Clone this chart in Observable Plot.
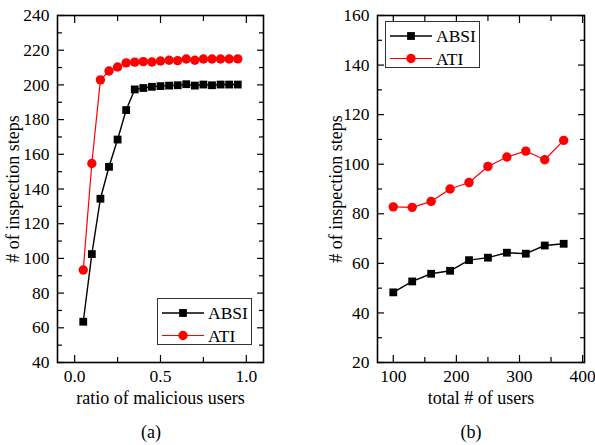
<!DOCTYPE html>
<html><head><meta charset="utf-8">
<script src="https://cdn.jsdelivr.net/npm/d3@7"></script>
<script src="https://cdn.jsdelivr.net/npm/@observablehq/plot@0.6"></script>
<style>
body{margin:0;background:#fff;}
#wrap{position:relative;width:595px;height:445px;font-family:"Liberation Serif","Times New Roman",serif;color:#000;}
.panel{position:absolute;top:0;}
.cap{position:absolute;font-size:18px;transform:translate(-50%,-50%);white-space:nowrap;}
.legend{position:absolute;box-sizing:border-box;border:1.5px solid #333;background:#fff;}
.legend svg{overflow:visible;}
</style></head><body><div id="wrap"></div>
<script>
// ---- data (a) ----
const ratio = [0.05,0.10,0.15,0.20,0.25,0.30,0.35,0.40,0.45,0.50,0.55,0.60,0.65,0.70,0.75,0.80,0.85,0.90,0.95];
const absiA = [63.5,102.5,134.4,152.8,168.5,185.5,197.4,198.2,198.9,199.3,199.6,199.8,200.4,199.6,200.2,199.8,200.2,200.2,200.2];
const atiA  = [93.3,154.7,202.9,208.0,210.3,212.7,213.1,213.4,213.2,213.8,214.2,214.0,214.9,214.2,214.9,214.9,214.9,214.9,215.0];
// ---- data (b) ----
const users = [100,130,160,190,220,250,280,310,340,370];
const absiB = [48.3,52.7,55.8,57.0,61.3,62.3,64.3,63.9,67.2,67.9];
const atiB  = [82.8,82.6,85.0,90.0,92.6,99.1,102.9,105.3,101.8,109.6];
// ---- ticks ----
const xMajorA = [0, 0.5, 1.0];
const xMinorA = [0.25, 0.75];
const yMajorA = [40,60,80,100,120,140,160,180,200,220,240];
const yMinorA = [50,70,90,110,130,150,170,190,210,230];
const xMajorB = [100,200,300,400];
const xMinorB = [150,250,350];
const yMajorB = [20,40,60,80,100,120,140,160];
const yMinorB = [30,50,70,90,110,130,150];
const seriesNames = ["ABSI","ATI"];
const seriesColors = ["#000000","#ff0000"];
const yTitle = "# of inspection steps";

const FONT = '"Liberation Serif","Times New Roman",serif';

function panel({xs, s1, s2, xDomain, yDomain, xMajor, xMinor, yMajor, yMinor, xFmt, xLabel, width, marginLeft, marginRight, yLabelOffset}) {
  const d1 = xs.map((x,i)=>({x, y:s1[i]}));
  const d2 = xs.map((x,i)=>({x, y:s2[i]}));
  const noText = () => "";
  return Plot.plot({
    width, height: 410,
    marginLeft, marginRight, marginTop: 15, marginBottom: 48,
    style: {fontFamily: FONT, fontSize: "17.5px", background: "transparent", color: "#000", overflow: "visible"},
    x: {domain: xDomain},
    y: {domain: yDomain},
    marks: [
      // tick labels
      Plot.axisX({ticks: xMajor, tickSize: 0, tickPadding: 7, tickFormat: xFmt, label: null, fontSize: 17.5}),
      Plot.axisY({ticks: yMajor, tickSize: 0, tickPadding: 8, tickFormat: d=>d, label: null, fontSize: 17.5}),
      // axis titles
      Plot.axisX({ticks: xMajor, tickSize: 0, tickFormat: noText, label: xLabel, labelAnchor: "center", labelOffset: 41, labelArrow: "none", fontSize: 18}),
      Plot.axisY({ticks: yMajor, tickSize: 0, tickFormat: noText, label: yTitle, labelAnchor: "center", labelOffset: yLabelOffset, labelArrow: "none", fontSize: 18}),
      // inward ticks on all four sides
      Plot.axisX({anchor: "bottom", ticks: xMajor, tickSize: -7, tickFormat: noText, label: null, strokeWidth: 1.2}),
      Plot.axisX({anchor: "bottom", ticks: xMinor, tickSize: -5, tickFormat: noText, label: null, strokeWidth: 1.2}),
      Plot.axisX({anchor: "top", ticks: xMajor, tickSize: -7, tickFormat: noText, label: null, strokeWidth: 1.2}),
      Plot.axisX({anchor: "top", ticks: xMinor, tickSize: -5, tickFormat: noText, label: null, strokeWidth: 1.2}),
      Plot.axisY({anchor: "left", ticks: yMajor, tickSize: -7, tickFormat: noText, label: null, strokeWidth: 1.2}),
      Plot.axisY({anchor: "left", ticks: yMinor, tickSize: -5, tickFormat: noText, label: null, strokeWidth: 1.2}),
      Plot.axisY({anchor: "right", ticks: yMajor, tickSize: -7, tickFormat: noText, label: null, strokeWidth: 1.2}),
      Plot.axisY({anchor: "right", ticks: yMinor, tickSize: -5, tickFormat: noText, label: null, strokeWidth: 1.2}),
      Plot.line(d1, {x: "x", y: "y", stroke: seriesColors[0], strokeWidth: 1.4}),
      Plot.line(d2, {x: "x", y: "y", stroke: seriesColors[1], strokeWidth: 1.2}),
      Plot.dot(d1, {x: "x", y: "y", symbol: "square", fill: seriesColors[0], r: 4.4}),
      Plot.dot(d2, {x: "x", y: "y", symbol: "circle", fill: seriesColors[1], r: 4.7}),
      Plot.frame({stroke: "#000", strokeWidth: 1.6})
    ]
  });
}

function legend(left, top) {
  const div = document.createElement("div");
  div.className = "legend";
  Object.assign(div.style, {left: left+"px", top: top+"px", width: "95px", height: "47px"});
  const svg = d3.select(div).append("svg").attr("width", 95).attr("height", 47)
    .style("position","absolute").style("left","-1.5px").style("top","-1.5px");
  seriesNames.forEach((name, i) => {
    const cy = 15 + i*22.5;
    const g = svg.append("g");
    g.append("line").attr("x1", 5).attr("x2", 47).attr("y1", cy).attr("y2", cy)
      .attr("stroke", seriesColors[i]).attr("stroke-width", i ? 1.2 : 1.4);
    if (i === 0) g.append("rect").attr("x", 26-3.9).attr("y", cy-3.9).attr("width", 7.8).attr("height", 7.8).attr("fill", seriesColors[i]);
    else g.append("circle").attr("cx", 26).attr("cy", cy).attr("r", 4.7).attr("fill", seriesColors[i]);
    g.append("text").attr("x", 51).attr("y", cy).attr("dy", "0.36em")
      .style("font-family", FONT).style("font-size", "17.5px").text(name);
  });
  return div;
}

const wrap = document.getElementById("wrap");

const pa = panel({xs: ratio, s1: absiA, s2: atiA, xDomain: [-0.1, 1.1], yDomain: [40, 240],
  xMajor: xMajorA, xMinor: xMinorA, yMajor: yMajorA, yMinor: yMinorA, xFmt: d3.format(".1f"),
  xLabel: "ratio of malicious users", width: 290, marginLeft: 57, marginRight: 27, yLabelOffset: 51});
pa.classList.add("panel"); pa.style.left = "0px";
wrap.appendChild(pa);

const pb = panel({xs: users, s1: absiB, s2: atiB, xDomain: [75, 403], yDomain: [20, 160],
  xMajor: xMajorB, xMinor: xMinorB, yMajor: yMajorB, yMinor: yMinorB, xFmt: d=>d,
  xLabel: "total # of users", width: 295, marginLeft: 77, marginRight: 11, yLabelOffset: 48});
pb.classList.add("panel"); pb.style.left = "300px";
wrap.appendChild(pb);

wrap.appendChild(legend(157, 298));
wrap.appendChild(legend(385, 21));

[["(a)",151],["(b)",471]].forEach(([t,x]) => {
  const c = document.createElement("div");
  c.className = "cap"; c.textContent = t;
  c.style.left = x+"px"; c.style.top = "432px";
  wrap.appendChild(c);
});
</script></body></html>
